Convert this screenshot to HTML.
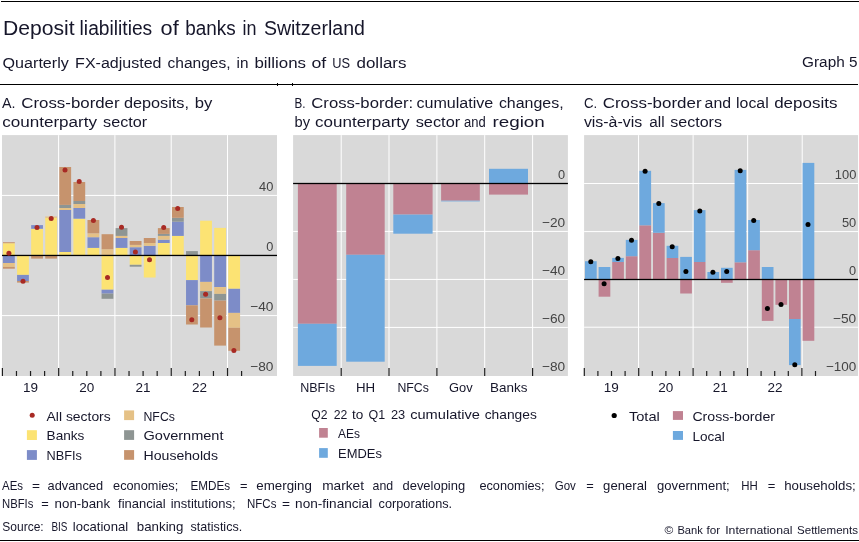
<!DOCTYPE html>
<html><head><meta charset="utf-8"><title>Deposit liabilities of banks in Switzerland</title>
<style>
html,body{margin:0;padding:0;background:#fff;}
svg{display:block;font-family:"Liberation Sans",sans-serif;}
</style></head><body>
<svg width="859" height="542" viewBox="0 0 859 542">
<rect x="0" y="0" width="859" height="542" fill="#fff"/>
<rect x="1.00" y="1.00" width="858.00" height="1.00" fill="#000"/>
<rect x="0.00" y="84.00" width="858.00" height="1.00" fill="#000"/>
<rect x="277.00" y="83.00" width="1.00" height="3.00" fill="#000"/>
<rect x="292.00" y="83.00" width="1.00" height="3.00" fill="#000"/>
<rect x="0.00" y="540.00" width="859.00" height="1.00" fill="#000"/>
<text x="3.0" y="34.6" font-size="19.5" textLength="71.6" lengthAdjust="spacingAndGlyphs" text-anchor="start" fill="#16162a">Deposit</text>
<text x="79.6" y="34.6" font-size="19.5" textLength="72.6" lengthAdjust="spacingAndGlyphs" text-anchor="start" fill="#16162a">liabilities</text>
<text x="160.6" y="34.6" font-size="19.5" textLength="18.1" lengthAdjust="spacingAndGlyphs" text-anchor="start" fill="#16162a">of</text>
<text x="185.2" y="34.6" font-size="19.5" textLength="50.5" lengthAdjust="spacingAndGlyphs" text-anchor="start" fill="#16162a">banks</text>
<text x="242.5" y="34.6" font-size="19.5" textLength="14.0" lengthAdjust="spacingAndGlyphs" text-anchor="start" fill="#16162a">in</text>
<text x="263.9" y="34.6" font-size="19.5" textLength="101.0" lengthAdjust="spacingAndGlyphs" text-anchor="start" fill="#16162a">Switzerland</text>
<text x="2.6" y="67.5" font-size="14.7" textLength="66.2" lengthAdjust="spacingAndGlyphs" text-anchor="start" fill="#16162a">Quarterly</text>
<text x="75.1" y="67.5" font-size="14.7" textLength="86.4" lengthAdjust="spacingAndGlyphs" text-anchor="start" fill="#16162a">FX-adjusted</text>
<text x="167.5" y="67.5" font-size="14.7" textLength="63.1" lengthAdjust="spacingAndGlyphs" text-anchor="start" fill="#16162a">changes,</text>
<text x="236.6" y="67.5" font-size="14.7" textLength="11.9" lengthAdjust="spacingAndGlyphs" text-anchor="start" fill="#16162a">in</text>
<text x="254.4" y="67.5" font-size="14.7" textLength="51.6" lengthAdjust="spacingAndGlyphs" text-anchor="start" fill="#16162a">billions</text>
<text x="311.4" y="67.5" font-size="14.7" textLength="14.8" lengthAdjust="spacingAndGlyphs" text-anchor="start" fill="#16162a">of</text>
<text x="332.2" y="67.5" font-size="14.7" textLength="17.8" lengthAdjust="spacingAndGlyphs" text-anchor="start" fill="#16162a">US</text>
<text x="356.5" y="67.5" font-size="14.7" textLength="50.0" lengthAdjust="spacingAndGlyphs" text-anchor="start" fill="#16162a">dollars</text>
<text x="802.1" y="67.4" font-size="14.7" textLength="55.4" lengthAdjust="spacingAndGlyphs" text-anchor="start" fill="#16162a">Graph 5</text>
<text x="2.0" y="107.5" font-size="13.8" textLength="13.5" lengthAdjust="spacingAndGlyphs" text-anchor="start" fill="#16162a">A.</text>
<text x="21.3" y="107.5" font-size="13.8" textLength="98.3" lengthAdjust="spacingAndGlyphs" text-anchor="start" fill="#16162a">Cross-border</text>
<text x="123.9" y="107.5" font-size="13.8" textLength="65.1" lengthAdjust="spacingAndGlyphs" text-anchor="start" fill="#16162a">deposits,</text>
<text x="194.7" y="107.5" font-size="13.8" textLength="17.6" lengthAdjust="spacingAndGlyphs" text-anchor="start" fill="#16162a">by</text>
<text x="2.2" y="126.6" font-size="13.8" textLength="94.9" lengthAdjust="spacingAndGlyphs" text-anchor="start" fill="#16162a">counterparty</text>
<text x="103.1" y="126.6" font-size="13.8" textLength="44.1" lengthAdjust="spacingAndGlyphs" text-anchor="start" fill="#16162a">sector</text>
<text x="294.5" y="107.5" font-size="13.8" textLength="11.0" lengthAdjust="spacingAndGlyphs" text-anchor="start" fill="#16162a">B.</text>
<text x="311.3" y="107.5" font-size="13.8" textLength="101.9" lengthAdjust="spacingAndGlyphs" text-anchor="start" fill="#16162a">Cross-border:</text>
<text x="416.4" y="107.5" font-size="13.8" textLength="76.9" lengthAdjust="spacingAndGlyphs" text-anchor="start" fill="#16162a">cumulative</text>
<text x="498.9" y="107.5" font-size="13.8" textLength="64.7" lengthAdjust="spacingAndGlyphs" text-anchor="start" fill="#16162a">changes,</text>
<text x="294.5" y="126.6" font-size="13.8" textLength="15.5" lengthAdjust="spacingAndGlyphs" text-anchor="start" fill="#16162a">by</text>
<text x="315.0" y="126.6" font-size="13.8" textLength="94.6" lengthAdjust="spacingAndGlyphs" text-anchor="start" fill="#16162a">counterparty</text>
<text x="415.7" y="126.6" font-size="13.8" textLength="44.5" lengthAdjust="spacingAndGlyphs" text-anchor="start" fill="#16162a">sector</text>
<text x="464.0" y="126.6" font-size="13.8" textLength="21.7" lengthAdjust="spacingAndGlyphs" text-anchor="start" fill="#16162a">and</text>
<text x="492.4" y="126.6" font-size="13.8" textLength="52.4" lengthAdjust="spacingAndGlyphs" text-anchor="start" fill="#16162a">region</text>
<text x="583.9" y="107.5" font-size="13.8" textLength="13.2" lengthAdjust="spacingAndGlyphs" text-anchor="start" fill="#16162a">C.</text>
<text x="602.7" y="107.5" font-size="13.8" textLength="98.9" lengthAdjust="spacingAndGlyphs" text-anchor="start" fill="#16162a">Cross-border</text>
<text x="704.6" y="107.5" font-size="13.8" textLength="26.5" lengthAdjust="spacingAndGlyphs" text-anchor="start" fill="#16162a">and</text>
<text x="736.1" y="107.5" font-size="13.8" textLength="32.6" lengthAdjust="spacingAndGlyphs" text-anchor="start" fill="#16162a">local</text>
<text x="774.2" y="107.5" font-size="13.8" textLength="63.2" lengthAdjust="spacingAndGlyphs" text-anchor="start" fill="#16162a">deposits</text>
<text x="583.9" y="126.6" font-size="13.8" textLength="58.3" lengthAdjust="spacingAndGlyphs" text-anchor="start" fill="#16162a">vis-à-vis</text>
<text x="649.3" y="126.6" font-size="13.8" textLength="15.3" lengthAdjust="spacingAndGlyphs" text-anchor="start" fill="#16162a">all</text>
<text x="670.3" y="126.6" font-size="13.8" textLength="51.7" lengthAdjust="spacingAndGlyphs" text-anchor="start" fill="#16162a">sectors</text>
<rect x="2.00" y="135.10" width="275.00" height="240.90" fill="#d9d9d9"/>
<rect x="2.00" y="194.90" width="275.00" height="1.00" fill="#fff"/>
<rect x="2.00" y="315.10" width="275.00" height="1.00" fill="#fff"/>
<rect x="58.10" y="135.10" width="1.00" height="240.90" fill="#fff"/>
<rect x="114.40" y="135.10" width="1.00" height="240.90" fill="#fff"/>
<rect x="170.70" y="135.10" width="1.00" height="240.90" fill="#fff"/>
<rect x="227.00" y="135.10" width="1.00" height="240.90" fill="#fff"/>
<rect x="3.00" y="243.20" width="11.80" height="12.25" fill="#fce373"/>
<rect x="3.00" y="242.20" width="11.80" height="1.00" fill="#c6936d"/>
<rect x="3.00" y="255.45" width="11.80" height="7.55" fill="#7d8cc8"/>
<rect x="3.00" y="263.00" width="11.80" height="3.90" fill="#e5c186"/>
<rect x="3.00" y="266.90" width="11.80" height="1.80" fill="#c6936d"/>
<rect x="17.08" y="255.45" width="11.80" height="19.45" fill="#fce373"/>
<rect x="17.08" y="274.90" width="11.80" height="6.10" fill="#7d8cc8"/>
<rect x="17.08" y="281.00" width="11.80" height="1.60" fill="#c6936d"/>
<rect x="31.16" y="228.80" width="11.80" height="26.65" fill="#fce373"/>
<rect x="31.16" y="225.10" width="11.80" height="3.70" fill="#7d8cc8"/>
<rect x="31.16" y="255.45" width="11.80" height="3.15" fill="#c6936d"/>
<rect x="45.24" y="217.80" width="11.80" height="37.65" fill="#fce373"/>
<rect x="45.24" y="216.50" width="11.80" height="1.30" fill="#e5c186"/>
<rect x="45.24" y="255.45" width="11.80" height="3.15" fill="#c6936d"/>
<rect x="59.32" y="252.00" width="11.80" height="3.45" fill="#fce373"/>
<rect x="59.32" y="210.00" width="11.80" height="42.00" fill="#7d8cc8"/>
<rect x="59.32" y="208.00" width="11.80" height="2.00" fill="#e5c186"/>
<rect x="59.32" y="204.90" width="11.80" height="3.10" fill="#8e9593"/>
<rect x="59.32" y="167.00" width="11.80" height="37.90" fill="#c6936d"/>
<rect x="73.40" y="218.70" width="11.80" height="36.75" fill="#fce373"/>
<rect x="73.40" y="208.00" width="11.80" height="10.70" fill="#7d8cc8"/>
<rect x="73.40" y="204.00" width="11.80" height="4.00" fill="#e5c186"/>
<rect x="73.40" y="201.00" width="11.80" height="3.00" fill="#8e9593"/>
<rect x="73.40" y="182.00" width="11.80" height="19.00" fill="#c6936d"/>
<rect x="87.48" y="247.90" width="11.80" height="7.55" fill="#fce373"/>
<rect x="87.48" y="237.20" width="11.80" height="10.70" fill="#7d8cc8"/>
<rect x="87.48" y="233.30" width="11.80" height="3.90" fill="#e5c186"/>
<rect x="87.48" y="220.00" width="11.80" height="13.30" fill="#c6936d"/>
<rect x="101.56" y="249.20" width="11.80" height="6.25" fill="#e5c186"/>
<rect x="101.56" y="234.20" width="11.80" height="15.00" fill="#c6936d"/>
<rect x="101.56" y="255.45" width="11.80" height="34.25" fill="#fce373"/>
<rect x="101.56" y="289.70" width="11.80" height="3.90" fill="#7d8cc8"/>
<rect x="101.56" y="293.60" width="11.80" height="5.20" fill="#8e9593"/>
<rect x="115.64" y="247.90" width="11.80" height="7.55" fill="#fce373"/>
<rect x="115.64" y="238.00" width="11.80" height="9.90" fill="#7d8cc8"/>
<rect x="115.64" y="235.90" width="11.80" height="2.10" fill="#e5c186"/>
<rect x="115.64" y="228.10" width="11.80" height="7.80" fill="#8e9593"/>
<rect x="129.72" y="247.20" width="11.80" height="8.25" fill="#7d8cc8"/>
<rect x="129.72" y="244.90" width="11.80" height="2.30" fill="#e5c186"/>
<rect x="129.72" y="241.00" width="11.80" height="3.90" fill="#c6936d"/>
<rect x="129.72" y="255.45" width="11.80" height="9.35" fill="#fce373"/>
<rect x="129.72" y="264.80" width="11.80" height="1.90" fill="#8e9593"/>
<rect x="143.80" y="245.80" width="11.80" height="9.65" fill="#7d8cc8"/>
<rect x="143.80" y="243.00" width="11.80" height="2.80" fill="#e5c186"/>
<rect x="143.80" y="238.00" width="11.80" height="5.00" fill="#c6936d"/>
<rect x="143.80" y="255.45" width="11.80" height="22.05" fill="#fce373"/>
<rect x="157.88" y="243.00" width="11.80" height="12.45" fill="#fce373"/>
<rect x="157.88" y="239.70" width="11.80" height="3.30" fill="#7d8cc8"/>
<rect x="157.88" y="235.90" width="11.80" height="3.80" fill="#e5c186"/>
<rect x="157.88" y="233.90" width="11.80" height="2.00" fill="#8e9593"/>
<rect x="157.88" y="228.10" width="11.80" height="5.80" fill="#c6936d"/>
<rect x="171.96" y="235.90" width="11.80" height="19.55" fill="#fce373"/>
<rect x="171.96" y="221.70" width="11.80" height="14.20" fill="#7d8cc8"/>
<rect x="171.96" y="217.80" width="11.80" height="3.90" fill="#8e9593"/>
<rect x="171.96" y="207.00" width="11.80" height="10.80" fill="#c6936d"/>
<rect x="186.04" y="251.10" width="11.80" height="4.35" fill="#8e9593"/>
<rect x="186.04" y="255.45" width="11.80" height="24.65" fill="#fce373"/>
<rect x="186.04" y="280.10" width="11.80" height="25.20" fill="#7d8cc8"/>
<rect x="186.04" y="305.30" width="11.80" height="19.20" fill="#c6936d"/>
<rect x="200.12" y="220.70" width="11.80" height="34.75" fill="#fce373"/>
<rect x="200.12" y="255.45" width="11.80" height="26.45" fill="#7d8cc8"/>
<rect x="200.12" y="281.90" width="11.80" height="9.20" fill="#e5c186"/>
<rect x="200.12" y="291.10" width="11.80" height="7.30" fill="#8e9593"/>
<rect x="200.12" y="298.40" width="11.80" height="29.10" fill="#c6936d"/>
<rect x="214.20" y="227.90" width="11.80" height="27.55" fill="#fce373"/>
<rect x="214.20" y="255.45" width="11.80" height="31.65" fill="#7d8cc8"/>
<rect x="214.20" y="287.10" width="11.80" height="6.80" fill="#e5c186"/>
<rect x="214.20" y="293.90" width="11.80" height="6.70" fill="#8e9593"/>
<rect x="214.20" y="300.60" width="11.80" height="45.00" fill="#c6936d"/>
<rect x="228.28" y="255.45" width="11.80" height="33.35" fill="#fce373"/>
<rect x="228.28" y="288.80" width="11.80" height="24.10" fill="#7d8cc8"/>
<rect x="228.28" y="312.90" width="11.80" height="14.90" fill="#e5c186"/>
<rect x="228.28" y="327.80" width="11.80" height="23.00" fill="#c6936d"/>
<rect x="2.00" y="254.80" width="275.00" height="1.30" fill="#000"/>
<circle cx="8.9" cy="253.3" r="2.5" fill="#a82a24"/>
<circle cx="23.0" cy="281.3" r="2.5" fill="#a82a24"/>
<circle cx="37.0" cy="227.6" r="2.5" fill="#a82a24"/>
<circle cx="51.2" cy="218.4" r="2.5" fill="#a82a24"/>
<circle cx="65.0" cy="170.0" r="2.5" fill="#a82a24"/>
<circle cx="79.2" cy="181.5" r="2.5" fill="#a82a24"/>
<circle cx="93.4" cy="220.6" r="2.5" fill="#a82a24"/>
<circle cx="107.5" cy="277.6" r="2.5" fill="#a82a24"/>
<circle cx="121.5" cy="227.2" r="2.5" fill="#a82a24"/>
<circle cx="135.4" cy="252.0" r="2.5" fill="#a82a24"/>
<circle cx="149.5" cy="259.8" r="2.5" fill="#a82a24"/>
<circle cx="163.7" cy="227.5" r="2.5" fill="#a82a24"/>
<circle cx="177.7" cy="208.5" r="2.5" fill="#a82a24"/>
<circle cx="191.8" cy="319.8" r="2.5" fill="#a82a24"/>
<circle cx="205.6" cy="294.3" r="2.5" fill="#a82a24"/>
<circle cx="219.9" cy="317.8" r="2.5" fill="#a82a24"/>
<circle cx="233.9" cy="350.6" r="2.5" fill="#a82a24"/>
<rect x="1.80" y="368.00" width="1.20" height="8.00" fill="#1e1e1e"/>
<rect x="15.87" y="371.00" width="1.20" height="5.00" fill="#1e1e1e"/>
<rect x="29.94" y="371.00" width="1.20" height="5.00" fill="#1e1e1e"/>
<rect x="44.01" y="371.00" width="1.20" height="5.00" fill="#1e1e1e"/>
<rect x="58.08" y="368.00" width="1.20" height="8.00" fill="#1e1e1e"/>
<rect x="72.15" y="371.00" width="1.20" height="5.00" fill="#1e1e1e"/>
<rect x="86.22" y="371.00" width="1.20" height="5.00" fill="#1e1e1e"/>
<rect x="100.29" y="371.00" width="1.20" height="5.00" fill="#1e1e1e"/>
<rect x="114.36" y="368.00" width="1.20" height="8.00" fill="#1e1e1e"/>
<rect x="128.43" y="371.00" width="1.20" height="5.00" fill="#1e1e1e"/>
<rect x="142.50" y="371.00" width="1.20" height="5.00" fill="#1e1e1e"/>
<rect x="156.57" y="371.00" width="1.20" height="5.00" fill="#1e1e1e"/>
<rect x="170.64" y="368.00" width="1.20" height="8.00" fill="#1e1e1e"/>
<rect x="184.71" y="371.00" width="1.20" height="5.00" fill="#1e1e1e"/>
<rect x="198.78" y="371.00" width="1.20" height="5.00" fill="#1e1e1e"/>
<rect x="212.85" y="371.00" width="1.20" height="5.00" fill="#1e1e1e"/>
<rect x="226.92" y="368.00" width="1.20" height="8.00" fill="#1e1e1e"/>
<rect x="240.99" y="371.00" width="1.20" height="5.00" fill="#1e1e1e"/>
<text x="30.5" y="391.8" font-size="13.5" text-anchor="middle" fill="#16162a">19</text>
<text x="86.8" y="391.8" font-size="13.5" text-anchor="middle" fill="#16162a">20</text>
<text x="143.1" y="391.8" font-size="13.5" text-anchor="middle" fill="#16162a">21</text>
<text x="199.4" y="391.8" font-size="13.5" text-anchor="middle" fill="#16162a">22</text>
<text x="259.1" y="190.7" font-size="13.3" textLength="14.3" lengthAdjust="spacingAndGlyphs" text-anchor="start" fill="#444444">40</text>
<text x="266.2" y="250.6" font-size="13.3" textLength="7.1" lengthAdjust="spacingAndGlyphs" text-anchor="start" fill="#444444">0</text>
<text x="250.2" y="310.9" font-size="13.3" textLength="23.2" lengthAdjust="spacingAndGlyphs" text-anchor="start" fill="#444444">−40</text>
<text x="250.2" y="370.7" font-size="13.3" textLength="23.2" lengthAdjust="spacingAndGlyphs" text-anchor="start" fill="#444444">−80</text>
<circle cx="32.2" cy="415.3" r="2.5" fill="#a82a24"/>
<rect x="26.90" y="430.20" width="10.00" height="9.80" fill="#fce373"/>
<rect x="26.90" y="450.10" width="10.00" height="9.80" fill="#7d8cc8"/>
<rect x="124.10" y="410.40" width="10.00" height="9.70" fill="#e5c186"/>
<rect x="124.10" y="430.20" width="10.00" height="9.70" fill="#8e9593"/>
<rect x="124.10" y="450.10" width="10.00" height="9.70" fill="#c6936d"/>
<text x="46.6" y="420.7" font-size="13" textLength="64.1" lengthAdjust="spacingAndGlyphs" text-anchor="start" fill="#16162a">All sectors</text>
<text x="46.6" y="440.3" font-size="13" textLength="37.8" lengthAdjust="spacingAndGlyphs" text-anchor="start" fill="#16162a">Banks</text>
<text x="46.6" y="460.2" font-size="13" textLength="35.4" lengthAdjust="spacingAndGlyphs" text-anchor="start" fill="#16162a">NBFIs</text>
<text x="143.5" y="420.7" font-size="13" textLength="31.4" lengthAdjust="spacingAndGlyphs" text-anchor="start" fill="#16162a">NFCs</text>
<text x="143.5" y="440.3" font-size="13" textLength="80.0" lengthAdjust="spacingAndGlyphs" text-anchor="start" fill="#16162a">Government</text>
<text x="143.5" y="460.2" font-size="13" textLength="74.5" lengthAdjust="spacingAndGlyphs" text-anchor="start" fill="#16162a">Households</text>
<rect x="293.10" y="135.10" width="274.80" height="240.90" fill="#d9d9d9"/>
<rect x="293.10" y="230.90" width="274.80" height="1.00" fill="#fff"/>
<rect x="293.10" y="278.90" width="274.80" height="1.00" fill="#fff"/>
<rect x="293.10" y="326.90" width="274.80" height="1.00" fill="#fff"/>
<rect x="340.70" y="135.10" width="1.00" height="240.90" fill="#fff"/>
<rect x="388.50" y="135.10" width="1.00" height="240.90" fill="#fff"/>
<rect x="436.40" y="135.10" width="1.00" height="240.90" fill="#fff"/>
<rect x="484.20" y="135.10" width="1.00" height="240.90" fill="#fff"/>
<rect x="532.10" y="135.10" width="1.00" height="240.90" fill="#fff"/>
<rect x="297.90" y="183.50" width="38.80" height="140.30" fill="#c08292"/>
<rect x="297.90" y="323.80" width="38.80" height="42.10" fill="#6ea9de"/>
<rect x="346.20" y="183.50" width="38.50" height="71.30" fill="#c08292"/>
<rect x="346.20" y="254.80" width="38.50" height="106.90" fill="#6ea9de"/>
<rect x="393.30" y="183.50" width="39.30" height="31.10" fill="#c08292"/>
<rect x="393.30" y="214.60" width="39.30" height="19.10" fill="#6ea9de"/>
<rect x="441.10" y="183.50" width="38.70" height="17.20" fill="#c08292"/>
<rect x="441.10" y="200.70" width="38.70" height="0.70" fill="#6ea9de"/>
<rect x="489.00" y="183.50" width="39.00" height="11.10" fill="#c08292"/>
<rect x="489.00" y="168.80" width="39.00" height="14.70" fill="#6ea9de"/>
<rect x="293.10" y="182.85" width="274.80" height="1.30" fill="#000"/>
<rect x="340.60" y="368.00" width="1.20" height="8.00" fill="#1e1e1e"/>
<rect x="388.40" y="368.00" width="1.20" height="8.00" fill="#1e1e1e"/>
<rect x="436.30" y="368.00" width="1.20" height="8.00" fill="#1e1e1e"/>
<rect x="484.10" y="368.00" width="1.20" height="8.00" fill="#1e1e1e"/>
<rect x="532.00" y="368.00" width="1.20" height="8.00" fill="#1e1e1e"/>
<text x="558.1" y="178.7" font-size="13.3" textLength="7.1" lengthAdjust="spacingAndGlyphs" text-anchor="start" fill="#444444">0</text>
<text x="542.0" y="226.7" font-size="13.3" textLength="23.2" lengthAdjust="spacingAndGlyphs" text-anchor="start" fill="#444444">−20</text>
<text x="542.0" y="274.7" font-size="13.3" textLength="23.2" lengthAdjust="spacingAndGlyphs" text-anchor="start" fill="#444444">−40</text>
<text x="542.0" y="322.7" font-size="13.3" textLength="23.2" lengthAdjust="spacingAndGlyphs" text-anchor="start" fill="#444444">−60</text>
<text x="542.0" y="370.7" font-size="13.3" textLength="23.2" lengthAdjust="spacingAndGlyphs" text-anchor="start" fill="#444444">−80</text>
<text x="300.2" y="391.5" font-size="13" textLength="34.8" lengthAdjust="spacingAndGlyphs" text-anchor="start" fill="#16162a">NBFIs</text>
<text x="355.9" y="391.5" font-size="13" textLength="19.2" lengthAdjust="spacingAndGlyphs" text-anchor="start" fill="#16162a">HH</text>
<text x="397.4" y="391.5" font-size="13" textLength="31.4" lengthAdjust="spacingAndGlyphs" text-anchor="start" fill="#16162a">NFCs</text>
<text x="449.1" y="391.5" font-size="13" textLength="23.6" lengthAdjust="spacingAndGlyphs" text-anchor="start" fill="#16162a">Gov</text>
<text x="490.0" y="391.5" font-size="13" textLength="37.4" lengthAdjust="spacingAndGlyphs" text-anchor="start" fill="#16162a">Banks</text>
<text x="311.3" y="418.5" font-size="13" textLength="16.2" lengthAdjust="spacingAndGlyphs" text-anchor="start" fill="#16162a">Q2</text>
<text x="333.7" y="418.5" font-size="13" textLength="13.6" lengthAdjust="spacingAndGlyphs" text-anchor="start" fill="#16162a">22</text>
<text x="352.0" y="418.5" font-size="13" textLength="11.3" lengthAdjust="spacingAndGlyphs" text-anchor="start" fill="#16162a">to</text>
<text x="368.6" y="418.5" font-size="13" textLength="16.6" lengthAdjust="spacingAndGlyphs" text-anchor="start" fill="#16162a">Q1</text>
<text x="390.9" y="418.5" font-size="13" textLength="14.3" lengthAdjust="spacingAndGlyphs" text-anchor="start" fill="#16162a">23</text>
<text x="410.2" y="418.5" font-size="13" textLength="69.8" lengthAdjust="spacingAndGlyphs" text-anchor="start" fill="#16162a">cumulative</text>
<text x="484.7" y="418.5" font-size="13" textLength="52.1" lengthAdjust="spacingAndGlyphs" text-anchor="start" fill="#16162a">changes</text>
<rect x="319.10" y="428.00" width="8.70" height="9.70" fill="#c08292"/>
<rect x="319.10" y="448.10" width="8.70" height="9.70" fill="#6ea9de"/>
<text x="338.1" y="437.7" font-size="13" textLength="21.9" lengthAdjust="spacingAndGlyphs" text-anchor="start" fill="#16162a">AEs</text>
<text x="338.1" y="457.7" font-size="13" textLength="43.8" lengthAdjust="spacingAndGlyphs" text-anchor="start" fill="#16162a">EMDEs</text>
<rect x="584.10" y="135.10" width="273.95" height="240.90" fill="#d9d9d9"/>
<rect x="584.10" y="183.00" width="273.95" height="1.00" fill="#fff"/>
<rect x="584.10" y="231.10" width="273.95" height="1.00" fill="#fff"/>
<rect x="584.10" y="326.70" width="273.95" height="1.00" fill="#fff"/>
<rect x="638.05" y="135.10" width="1.00" height="240.90" fill="#fff"/>
<rect x="692.60" y="135.10" width="1.00" height="240.90" fill="#fff"/>
<rect x="747.15" y="135.10" width="1.00" height="240.90" fill="#fff"/>
<rect x="801.70" y="135.10" width="1.00" height="240.90" fill="#fff"/>
<rect x="585.00" y="261.20" width="11.70" height="18.30" fill="#6ea9de"/>
<rect x="598.60" y="267.00" width="11.70" height="12.50" fill="#6ea9de"/>
<rect x="598.60" y="279.50" width="11.70" height="17.20" fill="#c08292"/>
<rect x="612.20" y="262.00" width="11.70" height="17.50" fill="#c08292"/>
<rect x="612.20" y="257.90" width="11.70" height="4.10" fill="#6ea9de"/>
<rect x="625.80" y="256.20" width="11.70" height="23.30" fill="#c08292"/>
<rect x="625.80" y="239.90" width="11.70" height="16.30" fill="#6ea9de"/>
<rect x="639.40" y="225.30" width="11.70" height="54.20" fill="#c08292"/>
<rect x="639.40" y="170.80" width="11.70" height="54.50" fill="#6ea9de"/>
<rect x="653.00" y="232.80" width="11.70" height="46.70" fill="#c08292"/>
<rect x="653.00" y="203.10" width="11.70" height="29.70" fill="#6ea9de"/>
<rect x="666.60" y="258.00" width="11.70" height="21.50" fill="#c08292"/>
<rect x="666.60" y="245.80" width="11.70" height="12.20" fill="#6ea9de"/>
<rect x="680.20" y="256.90" width="11.70" height="22.60" fill="#6ea9de"/>
<rect x="680.20" y="279.50" width="11.70" height="14.00" fill="#c08292"/>
<rect x="693.80" y="262.00" width="11.70" height="17.50" fill="#c08292"/>
<rect x="693.80" y="210.10" width="11.70" height="51.90" fill="#6ea9de"/>
<rect x="707.40" y="272.00" width="11.70" height="7.50" fill="#6ea9de"/>
<rect x="721.00" y="267.80" width="11.70" height="11.70" fill="#6ea9de"/>
<rect x="721.00" y="279.50" width="11.70" height="3.30" fill="#c08292"/>
<rect x="734.60" y="262.30" width="11.70" height="17.20" fill="#c08292"/>
<rect x="734.60" y="169.90" width="11.70" height="92.40" fill="#6ea9de"/>
<rect x="748.20" y="250.20" width="11.70" height="29.30" fill="#c08292"/>
<rect x="748.20" y="220.00" width="11.70" height="30.20" fill="#6ea9de"/>
<rect x="761.80" y="267.00" width="11.70" height="12.50" fill="#6ea9de"/>
<rect x="761.80" y="279.50" width="11.70" height="41.40" fill="#c08292"/>
<rect x="775.40" y="279.50" width="11.70" height="25.30" fill="#c08292"/>
<rect x="789.00" y="279.50" width="11.70" height="39.50" fill="#c08292"/>
<rect x="789.00" y="319.00" width="11.70" height="46.10" fill="#6ea9de"/>
<rect x="802.60" y="162.90" width="11.70" height="116.60" fill="#6ea9de"/>
<rect x="802.60" y="279.50" width="11.70" height="61.30" fill="#c08292"/>
<rect x="584.10" y="278.85" width="273.95" height="1.30" fill="#000"/>
<circle cx="590.8" cy="261.7" r="2.5" fill="#000"/>
<circle cx="604.1" cy="283.8" r="2.5" fill="#000"/>
<circle cx="617.9" cy="258.5" r="2.5" fill="#000"/>
<circle cx="631.5" cy="240.2" r="2.5" fill="#000"/>
<circle cx="645.1" cy="171.2" r="2.5" fill="#000"/>
<circle cx="658.8" cy="203.5" r="2.5" fill="#000"/>
<circle cx="672.2" cy="246.7" r="2.5" fill="#000"/>
<circle cx="685.9" cy="271.5" r="2.5" fill="#000"/>
<circle cx="699.8" cy="210.9" r="2.5" fill="#000"/>
<circle cx="712.9" cy="272.3" r="2.5" fill="#000"/>
<circle cx="726.7" cy="271.6" r="2.5" fill="#000"/>
<circle cx="740.2" cy="170.7" r="2.5" fill="#000"/>
<circle cx="753.7" cy="220.4" r="2.5" fill="#000"/>
<circle cx="767.4" cy="308.6" r="2.5" fill="#000"/>
<circle cx="781.0" cy="304.4" r="2.5" fill="#000"/>
<circle cx="794.8" cy="364.7" r="2.5" fill="#000"/>
<circle cx="808.0" cy="224.5" r="2.5" fill="#000"/>
<rect x="583.70" y="368.00" width="1.20" height="8.00" fill="#1e1e1e"/>
<rect x="597.30" y="371.00" width="1.20" height="5.00" fill="#1e1e1e"/>
<rect x="610.90" y="371.00" width="1.20" height="5.00" fill="#1e1e1e"/>
<rect x="624.50" y="371.00" width="1.20" height="5.00" fill="#1e1e1e"/>
<rect x="638.10" y="368.00" width="1.20" height="8.00" fill="#1e1e1e"/>
<rect x="651.70" y="371.00" width="1.20" height="5.00" fill="#1e1e1e"/>
<rect x="665.30" y="371.00" width="1.20" height="5.00" fill="#1e1e1e"/>
<rect x="678.90" y="371.00" width="1.20" height="5.00" fill="#1e1e1e"/>
<rect x="692.50" y="368.00" width="1.20" height="8.00" fill="#1e1e1e"/>
<rect x="706.10" y="371.00" width="1.20" height="5.00" fill="#1e1e1e"/>
<rect x="719.70" y="371.00" width="1.20" height="5.00" fill="#1e1e1e"/>
<rect x="733.30" y="371.00" width="1.20" height="5.00" fill="#1e1e1e"/>
<rect x="746.90" y="368.00" width="1.20" height="8.00" fill="#1e1e1e"/>
<rect x="760.50" y="371.00" width="1.20" height="5.00" fill="#1e1e1e"/>
<rect x="774.10" y="371.00" width="1.20" height="5.00" fill="#1e1e1e"/>
<rect x="787.70" y="371.00" width="1.20" height="5.00" fill="#1e1e1e"/>
<rect x="801.30" y="368.00" width="1.20" height="8.00" fill="#1e1e1e"/>
<rect x="814.90" y="371.00" width="1.20" height="5.00" fill="#1e1e1e"/>
<text x="611.2" y="392.0" font-size="13.5" text-anchor="middle" fill="#16162a">19</text>
<text x="665.8" y="392.0" font-size="13.5" text-anchor="middle" fill="#16162a">20</text>
<text x="720.3" y="392.0" font-size="13.5" text-anchor="middle" fill="#16162a">21</text>
<text x="774.9" y="392.0" font-size="13.5" text-anchor="middle" fill="#16162a">22</text>
<text x="834.8" y="178.8" font-size="13.3" textLength="21.5" lengthAdjust="spacingAndGlyphs" text-anchor="start" fill="#444444">100</text>
<text x="841.9" y="226.9" font-size="13.3" textLength="14.3" lengthAdjust="spacingAndGlyphs" text-anchor="start" fill="#444444">50</text>
<text x="849.1" y="274.6" font-size="13.3" textLength="7.1" lengthAdjust="spacingAndGlyphs" text-anchor="start" fill="#444444">0</text>
<text x="833.0" y="322.5" font-size="13.3" textLength="23.2" lengthAdjust="spacingAndGlyphs" text-anchor="start" fill="#444444">−50</text>
<text x="825.9" y="370.7" font-size="13.3" textLength="30.4" lengthAdjust="spacingAndGlyphs" text-anchor="start" fill="#444444">−100</text>
<circle cx="614.2" cy="415.5" r="2.6" fill="#000"/>
<text x="628.9" y="420.7" font-size="13" textLength="30.9" lengthAdjust="spacingAndGlyphs" text-anchor="start" fill="#16162a">Total</text>
<rect x="672.90" y="411.10" width="10.10" height="8.80" fill="#c08292"/>
<rect x="672.90" y="431.00" width="10.10" height="8.90" fill="#6ea9de"/>
<text x="692.4" y="420.6" font-size="13" textLength="82.6" lengthAdjust="spacingAndGlyphs" text-anchor="start" fill="#16162a">Cross-border</text>
<text x="692.4" y="440.5" font-size="13" textLength="32.4" lengthAdjust="spacingAndGlyphs" text-anchor="start" fill="#16162a">Local</text>
<text x="2.0" y="489.6" font-size="12.2" textLength="21.0" lengthAdjust="spacingAndGlyphs" text-anchor="start" fill="#16162a">AEs</text>
<text x="32.0" y="489.6" font-size="12.2" textLength="8.0" lengthAdjust="spacingAndGlyphs" text-anchor="start" fill="#16162a">=</text>
<text x="47.6" y="489.6" font-size="12.2" textLength="55.5" lengthAdjust="spacingAndGlyphs" text-anchor="start" fill="#16162a">advanced</text>
<text x="113.1" y="489.6" font-size="12.2" textLength="65.1" lengthAdjust="spacingAndGlyphs" text-anchor="start" fill="#16162a">economies;</text>
<text x="190.4" y="489.6" font-size="12.2" textLength="39.7" lengthAdjust="spacingAndGlyphs" text-anchor="start" fill="#16162a">EMDEs</text>
<text x="240.1" y="489.6" font-size="12.2" textLength="7.5" lengthAdjust="spacingAndGlyphs" text-anchor="start" fill="#16162a">=</text>
<text x="256.3" y="489.6" font-size="12.2" textLength="55.6" lengthAdjust="spacingAndGlyphs" text-anchor="start" fill="#16162a">emerging</text>
<text x="322.2" y="489.6" font-size="12.2" textLength="41.8" lengthAdjust="spacingAndGlyphs" text-anchor="start" fill="#16162a">market</text>
<text x="372.6" y="489.6" font-size="12.2" textLength="20.6" lengthAdjust="spacingAndGlyphs" text-anchor="start" fill="#16162a">and</text>
<text x="402.5" y="489.6" font-size="12.2" textLength="62.6" lengthAdjust="spacingAndGlyphs" text-anchor="start" fill="#16162a">developing</text>
<text x="479.4" y="489.6" font-size="12.2" textLength="65.1" lengthAdjust="spacingAndGlyphs" text-anchor="start" fill="#16162a">economies;</text>
<text x="554.7" y="489.6" font-size="12.2" textLength="21.1" lengthAdjust="spacingAndGlyphs" text-anchor="start" fill="#16162a">Gov</text>
<text x="586.3" y="489.6" font-size="12.2" textLength="7.5" lengthAdjust="spacingAndGlyphs" text-anchor="start" fill="#16162a">=</text>
<text x="603.1" y="489.6" font-size="12.2" textLength="43.8" lengthAdjust="spacingAndGlyphs" text-anchor="start" fill="#16162a">general</text>
<text x="657.1" y="489.6" font-size="12.2" textLength="72.6" lengthAdjust="spacingAndGlyphs" text-anchor="start" fill="#16162a">government;</text>
<text x="741.3" y="489.6" font-size="12.2" textLength="16.5" lengthAdjust="spacingAndGlyphs" text-anchor="start" fill="#16162a">HH</text>
<text x="767.8" y="489.6" font-size="12.2" textLength="7.6" lengthAdjust="spacingAndGlyphs" text-anchor="start" fill="#16162a">=</text>
<text x="784.2" y="489.6" font-size="12.2" textLength="71.6" lengthAdjust="spacingAndGlyphs" text-anchor="start" fill="#16162a">households;</text>
<text x="2.0" y="507.7" font-size="12.2" textLength="31.3" lengthAdjust="spacingAndGlyphs" text-anchor="start" fill="#16162a">NBFIs</text>
<text x="41.3" y="507.7" font-size="12.2" textLength="7.5" lengthAdjust="spacingAndGlyphs" text-anchor="start" fill="#16162a">=</text>
<text x="54.6" y="507.7" font-size="12.2" textLength="55.5" lengthAdjust="spacingAndGlyphs" text-anchor="start" fill="#16162a">non-bank</text>
<text x="118.1" y="507.7" font-size="12.2" textLength="47.6" lengthAdjust="spacingAndGlyphs" text-anchor="start" fill="#16162a">financial</text>
<text x="170.7" y="507.7" font-size="12.2" textLength="64.9" lengthAdjust="spacingAndGlyphs" text-anchor="start" fill="#16162a">institutions;</text>
<text x="247.1" y="507.7" font-size="12.2" textLength="29.3" lengthAdjust="spacingAndGlyphs" text-anchor="start" fill="#16162a">NFCs</text>
<text x="282.1" y="507.7" font-size="12.2" textLength="8.0" lengthAdjust="spacingAndGlyphs" text-anchor="start" fill="#16162a">=</text>
<text x="295.1" y="507.7" font-size="12.2" textLength="77.1" lengthAdjust="spacingAndGlyphs" text-anchor="start" fill="#16162a">non-financial</text>
<text x="378.6" y="507.7" font-size="12.2" textLength="73.5" lengthAdjust="spacingAndGlyphs" text-anchor="start" fill="#16162a">corporations.</text>
<text x="2.3" y="530.6" font-size="12.2" textLength="41.4" lengthAdjust="spacingAndGlyphs" text-anchor="start" fill="#16162a">Source:</text>
<text x="51.5" y="530.6" font-size="12.2" textLength="16.0" lengthAdjust="spacingAndGlyphs" text-anchor="start" fill="#16162a">BIS</text>
<text x="72.8" y="530.6" font-size="12.2" textLength="55.3" lengthAdjust="spacingAndGlyphs" text-anchor="start" fill="#16162a">locational</text>
<text x="136.8" y="530.6" font-size="12.2" textLength="46.6" lengthAdjust="spacingAndGlyphs" text-anchor="start" fill="#16162a">banking</text>
<text x="190.6" y="530.6" font-size="12.2" textLength="51.6" lengthAdjust="spacingAndGlyphs" text-anchor="start" fill="#16162a">statistics.</text>
<text x="664.4" y="534.3" font-size="11.5" textLength="8.8" lengthAdjust="spacingAndGlyphs" text-anchor="start" fill="#16162a">©</text>
<text x="677.4" y="534.3" font-size="11.5" textLength="25.4" lengthAdjust="spacingAndGlyphs" text-anchor="start" fill="#16162a">Bank</text>
<text x="706.5" y="534.3" font-size="11.5" textLength="13.7" lengthAdjust="spacingAndGlyphs" text-anchor="start" fill="#16162a">for</text>
<text x="725.2" y="534.3" font-size="11.5" textLength="67.3" lengthAdjust="spacingAndGlyphs" text-anchor="start" fill="#16162a">International</text>
<text x="797.0" y="534.3" font-size="11.5" textLength="61.0" lengthAdjust="spacingAndGlyphs" text-anchor="start" fill="#16162a">Settlements</text>
</svg>
</body></html>
